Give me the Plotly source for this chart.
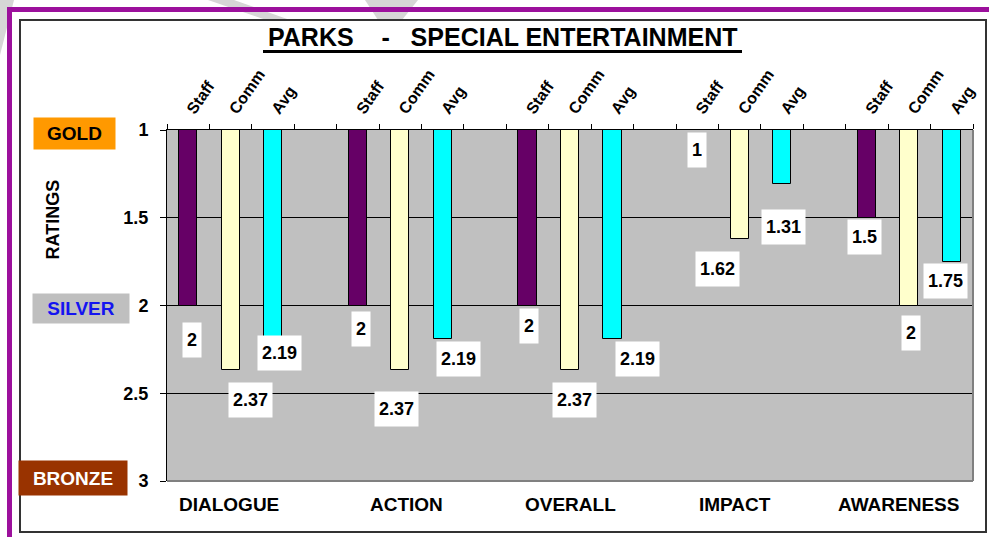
import plotly.graph_objects as go

# ---------------- data ----------------
groups = ["DIALOGUE", "ACTION", "OVERALL", "IMPACT", "AWARENESS"]
series_names = ["Staff", "Comm", "Avg"]
staff = [2, 2, 2, 1, 1.5]
comm = [2.37, 2.37, 2.37, 1.62, 2]
avg = [2.19, 2.19, 2.19, 1.31, 1.75]
y_ticks = [1, 1.5, 2, 2.5, 3]
title_text = "PARKS\u00a0\u00a0\u00a0\u00a0-\u00a0\u00a0\u00a0SPECIAL ENTERTAINMENT"
badges = ["GOLD", "SILVER", "BRONZE"]

# ---------------- styling ----------------
colors = ["#660066", "#FFFFCC", "#00FFFF"]
FONT = "Arial, Liberation Sans, Helvetica, sans-serif"
W, H = 989, 537
L, R, T, B = 167, 16, 130, 56
PW, PH = W - L - R, H - T - B

def px(x):
    return (x - L) / PW

def py(y):
    return (H - B - y) / PH

# per-label nudges (pixels) for the value boxes: (dx, dy-down)
label_nudge = [
    [(4, 34), (20, 30), (6, 14)],
    [(3, 23), (-4, 39), (16, 20)],
    [(1, 20), (4, 30), (25, 20)],
    [(0, 20), (-22, 30), (1, 43)],
    [(-2, 19), (2, 27), (-6, 19)],
]
group_label_shift = [-2, 6, 0, -5, -11]

values = [staff, comm, avg]
n_series = len(series_names)
slot = n_series + 1  # one empty slot between groups

fig = go.Figure()
for s, name in enumerate(series_names):
    xs = [g * slot + s for g in range(len(groups))]
    fig.add_trace(go.Bar(
        x=xs, y=[v - 1 for v in values[s]], base=1,
        name=name, width=0.43,
        marker=dict(color=colors[s], line=dict(color="black", width=1)),
        showlegend=False, hoverinfo="skip",
    ))

annotations = []
# value labels
for g in range(len(groups)):
    for s in range(n_series):
        v = values[s][g]
        dx, dy = label_nudge[g][s]
        annotations.append(dict(
            x=g * slot + s, y=v, xref="x", yref="y",
            text=f"{v:g}", showarrow=False,
            font=dict(family=FONT, size=18, color="black", weight="bold"),
            bgcolor="white", borderpad=4, height=26,
            xshift=dx, yshift=-dy, xanchor="center", yanchor="middle",
        ))
# group labels at bottom
for g, name in enumerate(groups):
    annotations.append(dict(
        x=g * slot + 1, y=py(504.5), xref="x", yref="paper",
        text=name, showarrow=False, xshift=group_label_shift[g],
        font=dict(family=FONT, size=19, color="black", weight="bold"),
        xanchor="center", yanchor="middle",
    ))
# title
annotations.append(dict(
    x=px(502), y=py(37), xref="paper", yref="paper", text=title_text,
    showarrow=False, xanchor="center", yanchor="middle",
    font=dict(family=FONT, size=25, color="black", weight="bold"),
))
# RATINGS
annotations.append(dict(
    x=px(52.5), y=py(220), xref="paper", yref="paper", text="RATINGS",
    textangle=-90, showarrow=False, xanchor="center", yanchor="middle",
    font=dict(family=FONT, size=18, color="black", weight="bold"),
))
# badges
badge_style = [
    dict(cx=74.5, cy=133.3, w=81, h=31, bg="#FF9900", fg="black"),
    dict(cx=81, cy=308.3, w=96, h=29, bg="#BFBFBF", fg="#1414F0"),
    dict(cx=73.2, cy=478, w=108, h=34, bg="#993300", fg="white"),
]
for txt, st in zip(badges, badge_style):
    annotations.append(dict(
        x=px(st["cx"]), y=py(st["cy"]), xref="paper", yref="paper",
        text=txt, showarrow=False, xanchor="center", yanchor="middle",
        width=st["w"], height=st["h"], borderpad=0, bgcolor=st["bg"],
        font=dict(family=FONT, size=19, color=st["fg"], weight="bold"),
    ))

shapes = []
stripe = "#D6D6D6"
for poly in [
    [(0, 0), (14, 0), (0, 55)],
    [(208, 0), (234, 0), (290, 20), (266, 20)],
    [(365, 0), (418, 0), (402, 20), (378, 20)],
]:
    path = "M " + " L ".join(f"{px(a):.5f},{py(b):.5f}" for a, b in poly) + " Z"
    shapes.append(dict(type="path", path=path, xref="paper", yref="paper",
                       fillcolor=stripe, line=dict(width=0), layer="below"))
purple = "#9C109C"
shapes.append(dict(type="rect", xref="paper", yref="paper",
                   x0=px(7), x1=px(989), y0=py(7), y1=py(12),
                   fillcolor=purple, line=dict(width=0)))
shapes.append(dict(type="rect", xref="paper", yref="paper",
                   x0=px(7), x1=px(12), y0=py(7), y1=py(537),
                   fillcolor=purple, line=dict(width=0)))
shapes.append(dict(type="rect", xref="paper", yref="paper",
                   x0=px(20), x1=px(986), y0=py(20), y1=py(532),
                   line=dict(color="#333333", width=2), fillcolor="rgba(0,0,0,0)"))
# title underline
shapes.append(dict(type="rect", xref="paper", yref="paper",
                   x0=px(263), x1=px(742), y0=py(50), y1=py(53),
                   fillcolor="black", line=dict(width=0)))
# grey frame on right and bottom of plot area
shapes.append(dict(type="line", xref="paper", yref="paper",
                   x0=0, x1=1, y0=0, y1=0, line=dict(color="#808080", width=2)))
shapes.append(dict(type="line", xref="paper", yref="paper",
                   x0=1, x1=1, y0=0, y1=1, line=dict(color="#808080", width=2)))

n_slots = len(groups) * slot - 1
tickvals = [g * slot + s for g in range(len(groups)) for s in range(n_series)]
ticktext = [series_names[s] for g in range(len(groups)) for s in range(n_series)]

fig.update_layout(
    width=W, height=H,
    margin=dict(l=L, r=R, t=T, b=B, pad=0),
    paper_bgcolor="white", plot_bgcolor="#C0C0C0",
    bargap=0,
    xaxis=dict(
        type="linear", range=[-0.5, n_slots - 0.5], side="top",
        tickmode="array", tickvals=tickvals, ticktext=ticktext,
        tickangle=-55, ticks="", showgrid=False, zeroline=False,
        showline=True, linecolor="black", linewidth=1,
        tickfont=dict(family=FONT, size=16, color="black", weight="bold"),
        ticklabelstandoff=4,
        minor=dict(tickmode="linear", tick0=-0.5, dtick=1, ticks="outside",
                   ticklen=5, tickcolor="black", tickwidth=1, showgrid=False),
    ),
    yaxis=dict(
        range=[3, 1], tickmode="array", tickvals=y_ticks,
        ticktext=[f"{v:g}" for v in y_ticks],
        ticks="outside", ticklen=6, tickcolor="black",
        showgrid=True, gridcolor="black", gridwidth=1,
        zeroline=False, showline=True, linecolor="black", linewidth=1,
        tickfont=dict(family=FONT, size=18, color="black", weight="bold"),
        ticklabelstandoff=8,
    ),
    annotations=annotations, shapes=shapes,
    showlegend=False,
)

fig.write_html("out.html")
